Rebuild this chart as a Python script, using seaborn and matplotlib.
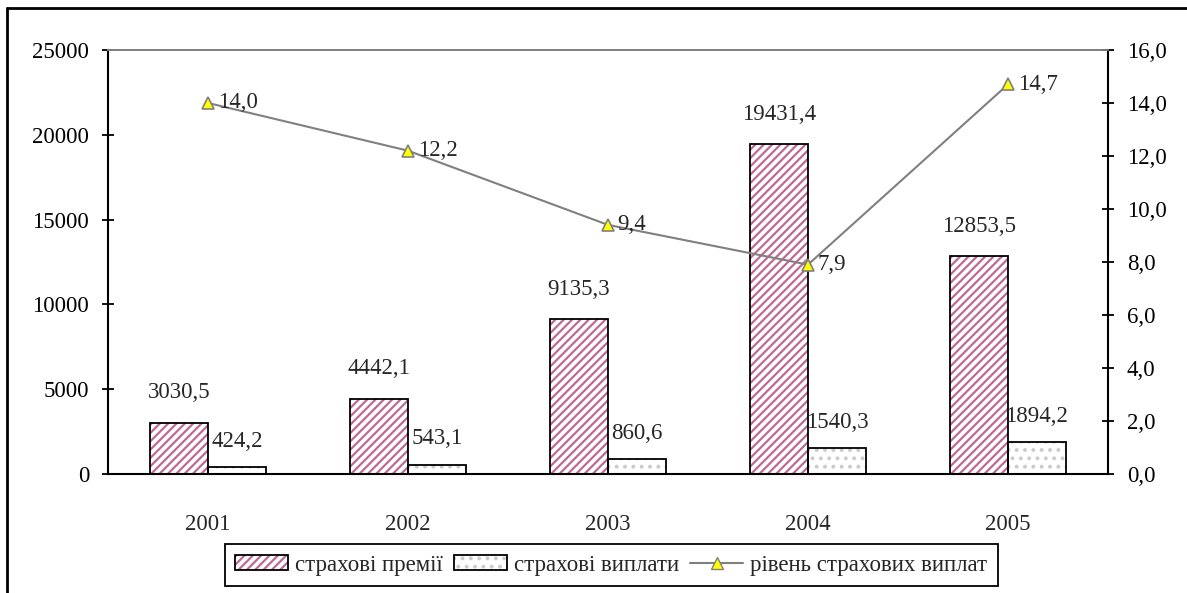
import numpy as np
import pandas as pd
import matplotlib
matplotlib.use("Agg")
import matplotlib.pyplot as plt
from matplotlib.patches import Patch, Rectangle
from matplotlib.lines import Line2D
from matplotlib.ticker import FuncFormatter, MultipleLocator
import seaborn as sns

years = ["2001", "2002", "2003", "2004", "2005"]
premiums = [3030.5, 4442.1, 9135.3, 19431.4, 12853.5]
payouts = [424.2, 543.1, 860.6, 1540.3, 1894.2]
payout_level = [14.0, 12.2, 9.4, 7.9, 14.7]
series_names = ["страхові премії", "страхові виплати", "рівень страхових виплат"]

PREM_HATCH = "#bf6a93"
PAY_HATCH = "#cccccc"
LINE_GRAY = "#808080"


def comma(v, digits=1):
    return f"{v:.{digits}f}".replace(".", ",")


sns.set_style("white")
plt.rcParams["font.family"] = ["Liberation Serif", "DejaVu Serif"]
plt.rcParams["font.size"] = 16.5
plt.rcParams["hatch.linewidth"] = 1.6

df = pd.DataFrame({
    "year": years * 2,
    "value": premiums + payouts,
    "series": [series_names[0]] * len(years) + [series_names[1]] * len(years),
})

fig = plt.figure(figsize=(11.87, 5.93), dpi=100)
ax = fig.add_axes([0.091, 0.2007, 0.8424, 0.715])

sns.barplot(data=df, x="year", y="value", hue="series", palette=["white", "white"],
            width=0.58, saturation=1, legend=False, ax=ax)

# hatch fill + black outline drawn separately so the hatch keeps its own colour
styles = [("////", PREM_HATCH), ("..", PAY_HATCH)]
for cont, (hatch, hcol) in zip(ax.containers, styles):
    for bar in cont:
        bar.set_hatch(hatch)
        bar.set_edgecolor(hcol)
        bar.set_linewidth(0)
        ax.add_patch(Rectangle(bar.get_xy(), bar.get_width(), bar.get_height(),
                               fill=False, edgecolor="black", lw=1.3, zorder=bar.get_zorder() + 0.1))

ax.bar_label(ax.containers[0], labels=[comma(v) for v in premiums], padding=14)
ax.bar_label(ax.containers[1], labels=[comma(v) for v in payouts], padding=11)

ax.set_ylim(0, 25000)
ax.yaxis.set_major_locator(MultipleLocator(5000))
ax.set_xlabel("")
ax.set_ylabel("")

ax2 = ax.twinx()
x_pos = np.arange(len(years))
sns.lineplot(x=x_pos, y=payout_level, ax=ax2, color=LINE_GRAY, lw=1.5, marker="^",
             markersize=9, markerfacecolor="#ffff00", markeredgecolor=LINE_GRAY,
             markeredgewidth=1.2)
for xp, v in zip(x_pos, payout_level):
    ax2.annotate(comma(v), (xp, v), xytext=(7, 0), textcoords="offset points",
                 ha="left", va="center")
ax2.set_ylim(0, 16)
ax2.yaxis.set_major_locator(MultipleLocator(2))
ax2.yaxis.set_major_formatter(FuncFormatter(lambda v, _: comma(v)))
ax2.set_ylabel("")
ax.set_xlim(-0.5, len(years) - 0.5)

# ticks
ax.tick_params(axis="y", direction="inout", length=9, width=1.3, pad=9, colors="black")
ax2.tick_params(axis="y", direction="inout", length=9, width=1.3, pad=9, colors="black")
ax.set_xticks(x_pos + 0.5, minor=True)
ax.set_xticks(x_pos)
ax.set_xticklabels(years)
ax.tick_params(axis="x", which="major", length=0, pad=29)
ax.tick_params(axis="x", which="minor", direction="inout", length=9, width=1.3, color="black")

# spines
for a in (ax, ax2):
    a.spines["top"].set_color(LINE_GRAY)
    a.spines["top"].set_linewidth(1.3)
ax.spines["left"].set_color("black")
ax.spines["left"].set_linewidth(1.5)
ax.spines["bottom"].set_color("black")
ax.spines["bottom"].set_linewidth(1.5)
ax.spines["right"].set_visible(False)
ax2.spines["left"].set_visible(False)
ax2.spines["bottom"].set_visible(False)
ax2.spines["right"].set_color("black")
ax2.spines["right"].set_linewidth(1.5)

# legend
handles = [
    (Patch(facecolor="white", edgecolor=PREM_HATCH, hatch="////", lw=0),
     Patch(fill=False, edgecolor="black", lw=1.3)),
    (Patch(facecolor="white", edgecolor=PAY_HATCH, hatch="..", lw=0),
     Patch(fill=False, edgecolor="black", lw=1.3)),
    Line2D([], [], color=LINE_GRAY, lw=1.5, marker="^", markersize=9,
           markerfacecolor="#ffff00", markeredgecolor=LINE_GRAY),
]
leg = fig.legend(handles, series_names, loc="center", bbox_to_anchor=(0.515, 0.047),
                 ncol=3, frameon=True, fancybox=False, edgecolor="black", framealpha=1,
                 handlelength=2.3, handleheight=0.6, columnspacing=0.5, handletextpad=0.3,
                 borderpad=0.45, borderaxespad=0)
leg.get_frame().set_linewidth(1.3)

# outer chart frame (left and top edges visible)
fig.add_artist(Line2D([7 / 1187, 7 / 1187], [0, 1 - 8 / 593], transform=fig.transFigure,
                      color="black", lw=2))
fig.add_artist(Line2D([7 / 1187, 1], [1 - 8 / 593, 1 - 8 / 593], transform=fig.transFigure,
                      color="black", lw=2))

fig.savefig("out.png", dpi=100)
